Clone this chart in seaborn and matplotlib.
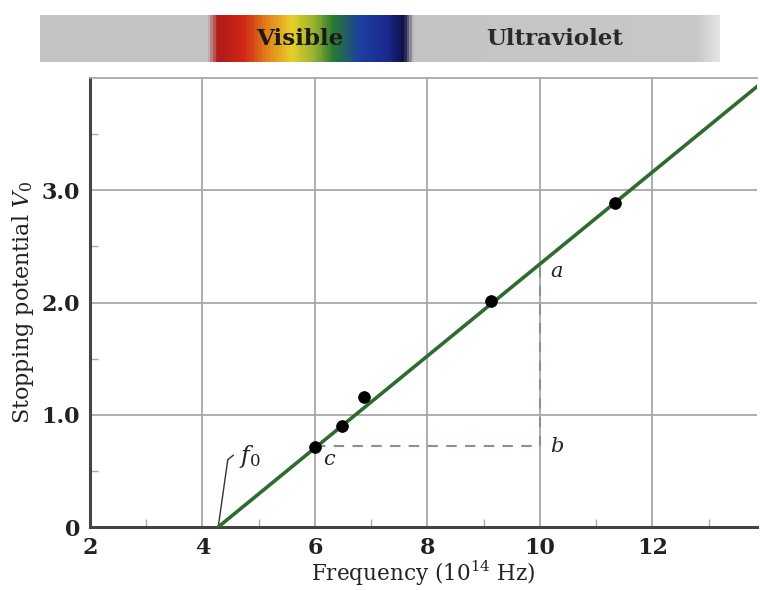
import numpy as np
import pandas as pd
import matplotlib
matplotlib.use("Agg")
import matplotlib.pyplot as plt
import seaborn as sns
from matplotlib.colors import LinearSegmentedColormap

# ---- data ----
freq_pts = [6.0, 6.48, 6.87, 9.13, 11.33]
volt_pts = [0.71, 0.90, 1.16, 2.01, 2.89]
fit_freq = [4.28, 13.9]
fit_volt = [0.0, 3.94]
x_ticks = [2, 4, 6, 8, 10, 12]
y_ticks = [0, 1.0, 2.0, 3.0]
y_tick_labels = ["0", "1.0", "2.0", "3.0"]
point_c = (6.0, 0.72)
point_b = (10.0, 0.72)
point_a = (10.0, 2.36)
band_labels = ["Visible", "Ultraviolet"]

sns.set_theme(style="white")
plt.rcParams["font.family"] = ["DejaVu Serif"]
plt.rcParams["mathtext.fontset"] = "dejavuserif"

fig = plt.figure(figsize=(7.6, 5.9), dpi=100)
fig.patch.set_facecolor("white")

W, H = 760, 590
ax = fig.add_axes([90 / W, (H - 527) / H, 667 / W, (527 - 78) / H])

pts = pd.DataFrame({"f": freq_pts, "v": volt_pts})
fit = pd.DataFrame({"f": fit_freq, "v": fit_volt})

ax.set_xlim(2, 13.86)
ax.set_ylim(0, 4.0)

# grid
ax.set_xticks(x_ticks)
ax.set_yticks(y_ticks)
ax.set_yticklabels(y_tick_labels)
ax.set_xticks([3, 5, 7, 9, 11, 13], minor=True)
ax.set_yticks([0.5, 1.5, 2.5, 3.5], minor=True)
ax.grid(True, which="major", color="#a8a8a8", linewidth=1.3)
ax.set_axisbelow(True)

# dashed construction lines
ax.plot([point_c[0], point_b[0]], [point_c[1], point_b[1]], ls=(0, (5, 4)),
        color="#7f9a7f", lw=1.5, zorder=2)
ax.plot([point_b[0], point_a[0]], [point_b[1], point_a[1]], ls=(0, (5, 4)),
        color="#7f9a7f", lw=1.5, zorder=2)

sns.lineplot(data=fit, x="f", y="v", ax=ax, color="#2e6b2e", lw=2.6, zorder=3)
sns.scatterplot(data=pts, x="f", y="v", ax=ax, color="black", s=70,
                edgecolor="black", zorder=4)

# annotations
ax.text(point_a[0] + 0.3, point_a[1] - 0.08, "a", style="italic", fontsize=15,
        ha="center", va="center", color="#222222")
ax.text(point_b[0] + 0.3, point_b[1], "b", style="italic", fontsize=15,
        ha="center", va="center", color="#222222")
ax.text(point_c[0] + 0.25, point_c[1] - 0.12, "c", style="italic", fontsize=15,
        ha="center", va="center", color="#222222")
ax.plot([fit_freq[0], 4.45, 4.55], [0.0, 0.6, 0.64], color="#333333", lw=1.0)
ax.text(4.85, 0.63, r"$f_0$", fontsize=17, ha="center", va="center",
        color="#222222")

# spines & ticks
for s in ["left", "bottom"]:
    ax.spines[s].set_color("#444444")
    ax.spines[s].set_linewidth(2.2)
ax.spines["top"].set_color("#a8a8a8")
ax.spines["top"].set_linewidth(1.3)
ax.spines["right"].set_visible(False)
ax.tick_params(which="major", length=0, labelsize=16, colors="#222222", pad=7)
ax.tick_params(which="minor", direction="in", length=6, width=1, color="#aaaaaa",
               bottom=True, left=True)
for lab in ax.get_xticklabels() + ax.get_yticklabels():
    lab.set_fontweight("bold")

ax.set_xlabel(r"Frequency (10$^{14}$ Hz)", fontsize=15.5, color="#222222", labelpad=0)
ax.set_ylabel(r"Stopping potential $V_0$", fontsize=16, color="#222222", labelpad=4)

# spectrum band
bax = fig.add_axes([40 / W, (H - 62) / H, 680 / W, 47 / H])
N = 680
stops = [(0.0, "#c4c4c4"), (0.245, "#c4c4c4"), (0.26, "#b01818"), (0.30, "#d02818"),
         (0.33, "#e07a1a"), (0.37, "#e8d028"), (0.405, "#90b030"), (0.43, "#2a7a30"),
         (0.47, "#1a40a0"), (0.51, "#1a2a90"), (0.535, "#101048"), (0.55, "#c4c4c4"),
         (0.97, "#c8c8c8"), (1.0, "#e4e4e4")]
cmap = LinearSegmentedColormap.from_list("band", stops)
grad = np.linspace(0, 1, N)[None, :]
bax.imshow(grad, aspect="auto", cmap=cmap, extent=[0, 1, 0, 1])
bax.set_xlim(0, 1)
bax.set_ylim(0, 1)
bax.axis("off")
bax.text((300 - 40) / 680, 0.48, band_labels[0], ha="center", va="center",
         fontsize=16.5, fontweight="bold", color="#1a1a1a")
bax.text((555 - 40) / 680, 0.48, band_labels[1], ha="center", va="center",
         fontsize=16.5, fontweight="bold", color="#2a2a2a")

fig.savefig("out.png", dpi=100, facecolor="white")
